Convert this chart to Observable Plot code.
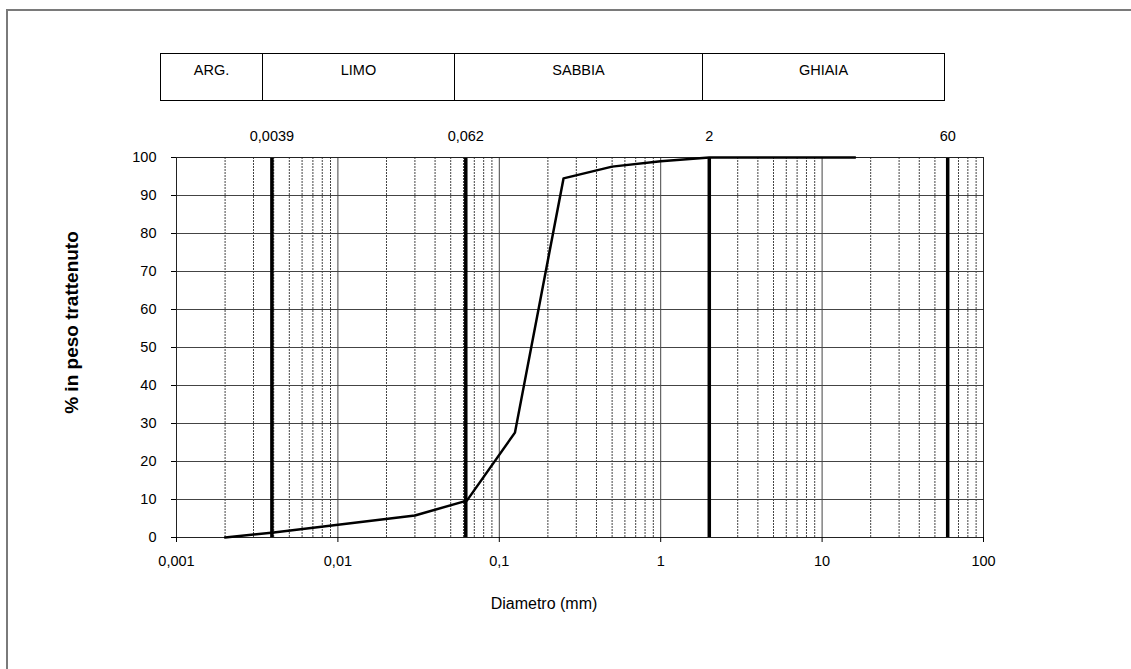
<!DOCTYPE html>
<html>
<head>
<meta charset="utf-8">
<script src="https://cdn.jsdelivr.net/npm/d3@7"></script>
<script src="https://cdn.jsdelivr.net/npm/@observablehq/plot@0.6"></script>
<style>
  html, body { margin: 0; padding: 0; background: #fff; }
  #wrap { position: relative; width: 1131px; height: 669px; overflow: hidden; font-family: "Liberation Sans", Arial, sans-serif; }
  #outer { position: absolute; left: 6px; top: 9px; width: 1140px; height: 700px; border-top: 2px solid #7a7a7a; border-left: 2px solid #7a7a7a; box-sizing: border-box; }
  #header { position: absolute; left: 160px; top: 53px; height: 48px; display: flex; border: 1px solid #000; box-sizing: border-box; }
  #header div { box-sizing: border-box; border-right: 1px solid #000; text-align: center; font-size: 14.5px; padding-top: 8px; color: #000; }
  #header div:last-child { border-right: none; }
  #chart { position: absolute; left: 0; top: 0; }
</style>
</head>
<body>
<div id="wrap">
  <div id="outer"></div>
  <div id="chart"></div>
  <div id="header"></div>
</div>
<script>
// ---- data ----
const diameters = [0.002, 0.004, 0.03, 0.063, 0.125, 0.25, 0.5, 1, 2, 4, 8, 16];
const retained  = [0, 1.3, 5.8, 9.7, 27.6, 94.5, 97.6, 99, 100, 100, 100, 100];
const classBounds = [0.0039, 0.062, 2, 60];
const soilClasses = ["ARG.", "LIMO", "SABBIA", "GHIAIA"];
const decadeTicks = [0.001, 0.01, 0.1, 1, 10, 100];
const yTicks = [0, 10, 20, 30, 40, 50, 60, 70, 80, 90, 100];
const xTitle = "Diametro (mm)";
const yTitle = "% in peso trattenuto";

// ---- derived ----
const data = diameters.map((d, i) => ({d, p: retained[i]}));
const minorTicks = decadeTicks.slice(0, -1).flatMap(t => [2,3,4,5,6,7,8,9].map(m => +(t * m).toPrecision(3)));
const fmt = d => String(d).replace(".", ",");

// header boxes (layout)
const headerWidths = [102, 192, 248, 241];
const header = document.getElementById("header");
soilClasses.forEach((c, i) => {
  const el = document.createElement("div");
  el.style.width = headerWidths[i] + "px";
  el.textContent = c;
  header.appendChild(el);
});

const chart = Plot.plot({
  width: 1131,
  height: 669,
  marginLeft: 176,
  marginRight: 148,
  marginTop: 157,
  marginBottom: 132,
  x: {type: "log", domain: [0.001, 100]},
  y: {domain: [0, 100]},
  style: {fontFamily: "'Liberation Sans', Arial, sans-serif", fontSize: "14.5px", background: "transparent", color: "#000"},
  marks: [
    Plot.ruleX(minorTicks, {stroke: "#444", strokeDasharray: "2,1", strokeWidth: 1}),
    Plot.ruleX(decadeTicks, {stroke: "#444", strokeWidth: 1}),
    Plot.ruleY(yTicks, {stroke: "#444", strokeWidth: 1}),
    Plot.ruleX(classBounds, {stroke: "#000", strokeWidth: 3.5}),
    Plot.frame({stroke: "#222"}),
    Plot.line(data, {x: "d", y: "p", stroke: "#000", strokeWidth: 2.5}),
    Plot.axisX({ticks: decadeTicks, tickFormat: fmt, tickSize: 5, tickPadding: 13, label: null, fontSize: 14.5}),
    Plot.axisY({ticks: yTicks, tickSize: 5, tickPadding: 15, label: null, fontSize: 14.5}),
    Plot.text(classBounds, {x: d => d, frameAnchor: "top", dy: -27, text: d => fmt(d), fontSize: 14.5, fill: "#000"}),
    Plot.text([yTitle], {frameAnchor: "left", dx: -105, dy: -25, rotate: -90, textAnchor: "middle", text: d => d, fontWeight: "bold", fontSize: 19, fill: "#000"}),
    Plot.text([xTitle], {frameAnchor: "bottom", dx: -36, dy: 71, text: d => d, fontSize: 16, fill: "#000"})
  ]
});
document.getElementById("chart").appendChild(chart);
</script>
</body>
</html>
